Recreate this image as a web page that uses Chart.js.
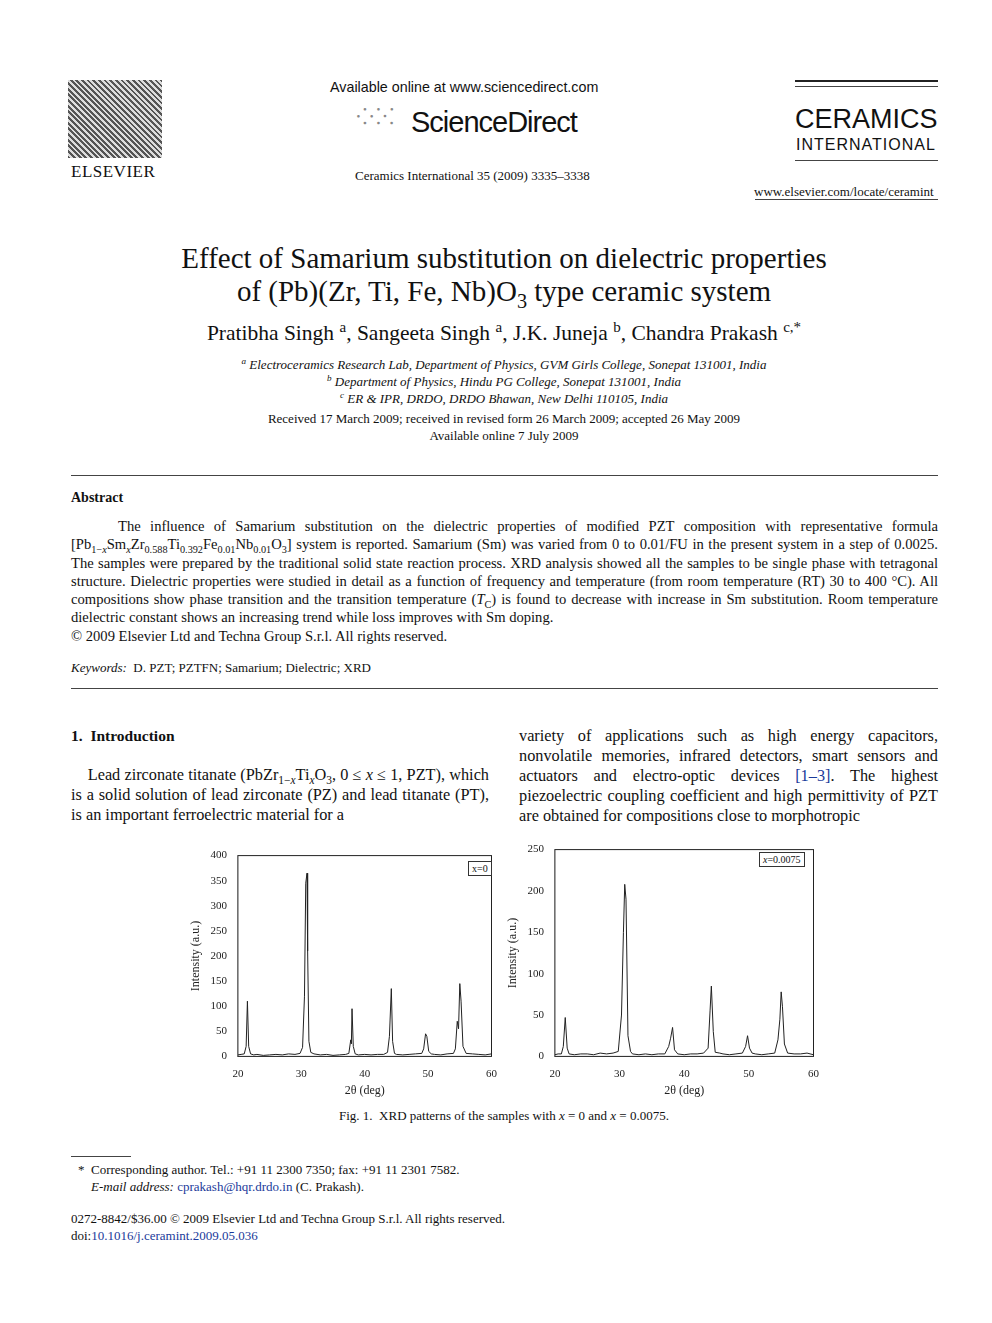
<!DOCTYPE html>
<html><head><meta charset="utf-8">
<script src="https://cdn.jsdelivr.net/npm/chart.js@4/dist/chart.umd.min.js"></script>
<style>
body{margin:0;width:992px;height:1323px;background:#fff;font-family:"Liberation Serif","DejaVu Serif",serif;color:#111;position:relative;overflow:hidden}
.a{position:absolute}
.c{text-align:center}
.j{text-align:justify}
hr{position:absolute;border:0;border-top:1px solid #444;margin:0}
sub,sup{font-size:70%;line-height:0}
i{font-style:italic}
.box{position:absolute;border:1px solid #333;font-size:10px;padding:0 3px;background:#fff;line-height:13px}
</style></head><body>
<div class="a" style="left:68px;top:80px;width:94px;height:78px;background:repeating-linear-gradient(45deg,#555 0 2px,#ddd 2px 4px)"></div>
<div class="a" style="left:71px;top:162px;font-size:17px;letter-spacing:0.5px">ELSEVIER</div>
<div class="a" style="left:330px;top:79px;font-family:'Liberation Sans',sans-serif;font-size:14.3px;white-space:nowrap">Available online at www.sciencedirect.com</div>
<div class="a" style="left:356px;top:100px;color:#888;font-size:22px;letter-spacing:2px">⁘⁙</div>
<div class="a" style="left:411px;top:106px;font-family:'Liberation Sans',sans-serif;font-size:29px;letter-spacing:-1px">ScienceDirect</div>
<div class="a" style="left:355px;top:168px;font-size:13px;white-space:nowrap">Ceramics International 35 (2009) 3335–3338</div>
<hr style="left:795px;top:80px;width:143px;border-top:2px solid #222">
<hr style="left:795px;top:86px;width:143px">
<div class="a" style="left:795px;top:104px;font-family:'Liberation Sans',sans-serif;font-size:27px">CERAMICS</div>
<div class="a" style="left:796px;top:136px;font-family:'Liberation Sans',sans-serif;font-size:16px;letter-spacing:1px">INTERNATIONAL</div>
<hr style="left:795px;top:160px;width:143px">
<div class="a" style="left:754px;top:184px;font-size:13px;white-space:nowrap">www.elsevier.com/locate/ceramint</div>
<hr style="left:755px;top:199px;width:183px">

<div class="a c" style="left:80px;top:242px;width:848px;font-size:29px;line-height:33px">Effect of Samarium substitution on dielectric properties<br>of (Pb)(Zr, Ti, Fe, Nb)O<sub>3</sub> type ceramic system</div>
<div class="a c" style="left:80px;top:321px;width:848px;font-size:21.5px">Pratibha Singh <sup>a</sup>, Sangeeta Singh <sup>a</sup>, J.K. Juneja <sup>b</sup>, Chandra Prakash <sup>c,*</sup></div>
<div class="a c" style="left:80px;top:356px;width:848px;font-size:13px;line-height:17px;font-style:italic"><sup>a</sup> Electroceramics Research Lab, Department of Physics, GVM Girls College, Sonepat 131001, India<br><sup>b</sup> Department of Physics, Hindu PG College, Sonepat 131001, India<br><sup>c</sup> ER &amp; IPR, DRDO, DRDO Bhawan, New Delhi 110105, India</div>
<div class="a c" style="left:80px;top:410px;width:848px;font-size:13px;line-height:17px">Received 17 March 2009; received in revised form 26 March 2009; accepted 26 May 2009<br>Available online 7 July 2009</div>
<hr style="left:71px;top:475px;width:867px">
<div class="a" style="left:71px;top:490px;font-size:14px;font-weight:bold">Abstract</div>
<div class="a j" style="left:71px;top:517px;width:867px;font-size:14.6px;line-height:18.3px">&nbsp;&nbsp;&nbsp;&nbsp;&nbsp;The influence of Samarium substitution on the dielectric properties of modified PZT composition with representative formula [Pb<sub>1−<i>x</i></sub>Sm<sub><i>x</i></sub>Zr<sub>0.588</sub>Ti<sub>0.392</sub>Fe<sub>0.01</sub>Nb<sub>0.01</sub>O<sub>3</sub>] system is reported. Samarium (Sm) was varied from 0 to 0.01/FU in the present system in a step of 0.0025. The samples were prepared by the traditional solid state reaction process. XRD analysis showed all the samples to be single phase with tetragonal structure. Dielectric properties were studied in detail as a function of frequency and temperature (from room temperature (RT) 30 to 400 °C). All compositions show phase transition and the transition temperature (<i>T</i><sub>C</sub>) is found to decrease with increase in Sm substitution. Room temperature dielectric constant shows an increasing trend while loss improves with Sm doping.<br>© 2009 Elsevier Ltd and Techna Group S.r.l. All rights reserved.</div>
<div class="a" style="left:71px;top:660px;font-size:13px"><i>Keywords:</i>&nbsp; D. PZT; PZTFN; Samarium; Dielectric; XRD</div>
<hr style="left:71px;top:688px;width:867px">
<div class="a" style="left:71px;top:727px;font-size:15.5px;font-weight:bold">1.&nbsp; Introduction</div>
<div class="a j" style="left:71px;top:765px;width:418px;font-size:16.3px;line-height:20px">&nbsp;&nbsp;&nbsp;&nbsp;Lead zirconate titanate (PbZr<sub>1−<i>x</i></sub>Ti<sub><i>x</i></sub>O<sub>3</sub>, 0 ≤ <i>x</i> ≤ 1, PZT), which is a solid solution of lead zirconate (PZ) and lead titanate (PT), is an important ferroelectric material for a</div>
<div class="a j" style="left:519px;top:726px;width:419px;font-size:16.3px;line-height:20px">variety of applications such as high energy capacitors, nonvolatile memories, infrared detectors, smart sensors and actuators and electro-optic devices <span style="color:#1a3a9a">[1–3]</span>. The highest piezoelectric coupling coefficient and high permittivity of PZT are obtained for compositions close to morphotropic</div>

<div class="a" style="left:185px;top:846px;width:315px;height:252px"><canvas id="c1"></canvas></div>
<div class="a" style="left:502px;top:840px;width:320px;height:258px"><canvas id="c2"></canvas></div>
<div class="box" style="left:468px;top:861px">x=0</div>
<div class="box" style="left:759px;top:852px"><i>x</i>=0.0075</div>

<div class="a c" style="left:100px;top:1108px;width:808px;font-size:13px">Fig. 1.&nbsp; XRD patterns of the samples with <i>x</i> = 0 and <i>x</i> = 0.0075.</div>
<hr style="left:71px;top:1156px;width:60px">
<div class="a" style="left:78px;top:1161px;font-size:13px;line-height:17px">*&nbsp; Corresponding author. Tel.: +91 11 2300 7350; fax: +91 11 2301 7582.<br>&nbsp;&nbsp;&nbsp;&nbsp;<i>E-mail address:</i> <span style="color:#1a3a9a">cprakash@hqr.drdo.in</span> (C. Prakash).</div>
<div class="a" style="left:71px;top:1210px;font-size:13px;line-height:17px">0272-8842/$36.00 © 2009 Elsevier Ltd and Techna Group S.r.l. All rights reserved.<br>doi:<span style="color:#1a3a9a">10.1016/j.ceramint.2009.05.036</span></div>

<script>
// x = 0 pattern
const angle1 = [20,20.5,21,21.3,21.5,21.7,22,22.5,23,24,25,26,27,28,29,29.8,30.2,30.5,30.7,30.9,31.0,31.2,31.5,32,33,34,35,36,37,37.5,37.8,37.9,38.0,38.2,38.5,39,40,41,42,43,43.6,43.9,44.2,44.4,44.7,45,46,47,48,49,49.3,49.6,49.8,50.1,50.5,51,52,53,54,54.3,54.6,54.8,55.0,55.2,55.5,56,57,58,59,60];
const count1 = [3,4,5,20,110,20,5,3,4,2,3,4,3,5,4,6,18,120,345,365,210,30,8,5,3,4,2,3,4,6,33,25,95,20,5,3,4,3,4,4,8,40,135,30,6,4,3,4,5,6,15,45,40,10,5,4,3,5,6,15,70,55,145,110,20,6,5,4,3,5];
// x = 0.0075 pattern
const angle2 = [20,20.5,21,21.3,21.6,21.9,22.2,23,24,25,26,27,28,29,29.8,30.3,30.6,30.8,31.0,31.3,31.7,32,33,34,35,36,37,37.6,37.9,38.2,38.5,39,40,41,42,43,43.7,44.0,44.2,44.5,44.8,45.5,46,47,48,49,49.5,49.8,50.1,50.5,51,52,53,54,54.5,54.8,55.0,55.2,55.5,56,57,58,59,60];
const count2 = [2,3,3,12,47,10,3,2,3,3,2,4,3,4,6,50,150,208,190,25,6,3,2,3,2,3,3,12,22,35,8,3,2,3,3,4,10,55,85,30,5,4,3,2,3,4,12,25,10,4,3,2,3,4,20,45,78,60,15,4,3,3,4,2];
const xTicks = [20,30,40,50,60];

const framePlugin = {
  id: 'frame',
  afterDraw(chart) {
    const a = chart.chartArea, c = chart.ctx;
    c.save(); c.strokeStyle = '#222'; c.lineWidth = 1;
    c.strokeRect(a.left, a.top, a.right - a.left, a.bottom - a.top);
    c.restore();
  }
};

function makeChart(id, xs, ys, yMax) {
  const pts = xs.map((x, i) => ({x: x, y: ys[i]}));
  new Chart(document.getElementById(id), {
    type: 'line',
    data: {datasets: [{data: pts, borderColor: '#222', borderWidth: 1, pointRadius: 0, tension: 0}]},
    options: {
      responsive: true, maintainAspectRatio: false, animation: false,
      plugins: {legend: {display: false}, tooltip: {enabled: false}},
      layout: {padding: {top: 8, right: 8}},
      scales: {
        x: {type: 'linear', min: 20, max: 60, grid: {display: false},
            afterBuildTicks: s => { s.ticks = xTicks.map(v => ({value: v})); },
            ticks: {color: '#222', font: {family: 'Liberation Serif', size: 11}},
            title: {display: true, text: '2θ (deg)', color: '#222', padding: 0, font: {family: 'Liberation Serif', size: 12}}},
        y: {min: 0, max: yMax, grid: {display: false},
            ticks: {stepSize: 50, color: '#222', font: {family: 'Liberation Serif', size: 11}},
            title: {display: true, text: 'Intensity (a.u.)', color: '#222', font: {family: 'Liberation Serif', size: 12}}}
      }
    },
    plugins: [framePlugin]
  });
}
makeChart('c1', angle1, count1, 400);
makeChart('c2', angle2, count2, 250);
</script>
</body></html>
